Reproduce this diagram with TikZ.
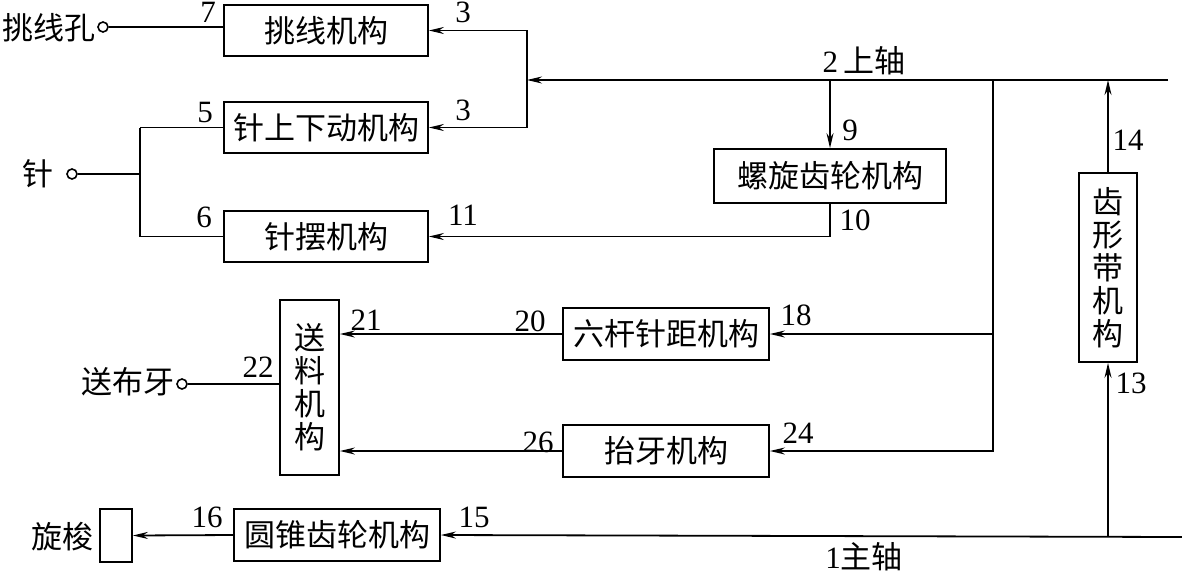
\documentclass[tikz,border=0pt]{standalone}
\usepackage{fontspec}
\setmainfont{Liberation Serif}
\newfontfamily\cjk{Noto Sans CJK SC}
\usetikzlibrary{arrows.meta}
\tikzset{
  box/.style={draw, line width=1.8pt, inner sep=0pt, font=\cjk\fontsize{31}{33}\selectfont, align=center},
  arr/.style={line width=1.8pt, -{Stealth[length=15pt,width=7pt,inset=5pt]}},
  ln/.style={line width=1.8pt},
  num/.style={inner sep=0pt, font=\fontsize{31}{33}\selectfont},
  cn/.style={inner sep=0pt, font=\cjk\fontsize{31}{33}\selectfont},
  port/.style={circle, draw, line width=1.6pt, inner sep=0pt, minimum size=10pt, fill=white}
}
\begin{document}
\begin{tikzpicture}[x=1pt,y=-1pt]
\useasboundingbox (0,0) rectangle (1182,576);
% boxes
\node[box, minimum width=204pt, minimum height=51pt] (tx) at (326,30.5) {挑线机构};
\node[box, minimum width=204pt, minimum height=51pt] (zs) at (326,127.5) {针上下动机构};
\node[box, minimum width=204pt, minimum height=51pt] (zb) at (326,236.5) {针摆机构};
\node[box, minimum width=232pt, minimum height=54pt] (lx) at (830,176) {螺旋齿轮机构};
\node[box, minimum width=58pt, minimum height=189pt] (cx) at (1108,267.5) {齿\\形\\带\\机\\构};
\node[box, minimum width=59pt, minimum height=175pt] (sl) at (309.5,387.5) {送\\料\\机\\构};
\node[box, minimum width=206pt, minimum height=52pt] (lg) at (666,334) {六杆针距机构};
\node[box, minimum width=206pt, minimum height=52pt] (ty) at (666,451) {抬牙机构};
\node[box, minimum width=206pt, minimum height=52pt] (yz) at (337,535) {圆锥齿轮机构};
\node[box, minimum width=32pt, minimum height=53pt] (xs) at (116,535.5) {};
% shaft coordinates
\coordinate (sa) at (527,80);
\coordinate (se) at (1168,80);
\coordinate (v1) at (993,80);
\coordinate (ze) at (1182,537);
\coordinate (zj) at (140,174);
% upper shaft
\draw[ln] (se) -- (v1);
\draw[arr] (v1) -- (sa);
\draw[arr] (sa) |- (tx.east);
\draw[arr] (sa) |- (zs.east);
\draw[arr] (lx.north |- sa) -- (lx.north);
\draw[arr] (lx.south) |- (zb.east);
\draw[arr] (v1) |- (ty.east);
\draw[arr] (v1 |- lg.east) -- (lg.east);
\draw[arr] (lg.west) -- (lg.west -| sl.east);
\draw[arr] (ty.west) -- (ty.west -| sl.east);
% main shaft
\draw[arr] (ze) -- (yz.east);
\draw[arr] (yz.west) -- (xs.east);
\draw[arr] (cx.south |- ze) -- (cx.south);
\draw[arr] (cx.north) -- (cx.north |- sa);
% outputs
\node[port] (p1) at (103,27) {};
\draw[ln] (p1) -- (p1 -| tx.west);
\node[port] (p2) at (72,174) {};
\draw[ln] (p2) -- (zj);
\draw[ln] (zj |- zs.west) -- (zs.west);
\draw[ln] (zj |- zb.west) -- (zb.west);
\draw[ln] (zj |- zs.west) -- (zj |- zb.west);
\node[port] (p3) at (182,384) {};
\draw[ln] (p3) -- (p3 -| sl.west);
% text labels
\node[cn, anchor=east] (t1) at (96,28) {挑线孔};
\node[cn] (t2) at (38,174) {针};
\node[cn, anchor=east] (t3) at (175,382) {送布牙};
\node[cn, anchor=east] (t4) at (94,537) {旋梭};
\node[inner sep=0pt] (t5) at (864,61) {\fontsize{31}{33}\selectfont 2\,\cjk 上轴};
\node[inner sep=0pt] (t6) at (864,557) {\fontsize{31}{33}\selectfont 1\cjk 主轴};
% numbers
\node[num] (n7) at (208,12) {7};
\node[num] (n3a) at (463,12) {3};
\node[num] (n3b) at (463,110) {3};
\node[num] (n5) at (205,112) {5};
\node[num] (n6) at (204,217) {6};
\node[num] (n11) at (463,215) {11};
\node[num] (n9) at (850,130) {9};
\node[num] (n10) at (855,220) {10};
\node[num] (n14) at (1128,140) {14};
\node[num] (n13) at (1131,383) {13};
\node[num] (n18) at (796,315) {18};
\node[num] (n24) at (798,433) {24};
\node[num] (n20) at (530,321) {20};
\node[num] (n26) at (538,442) {26};
\node[num] (n21) at (366,320) {21};
\node[num] (n22) at (258,367) {22};
\node[num] (n16) at (207,517) {16};
\node[num] (n15) at (474,517) {15};
\end{tikzpicture}
\end{document}
